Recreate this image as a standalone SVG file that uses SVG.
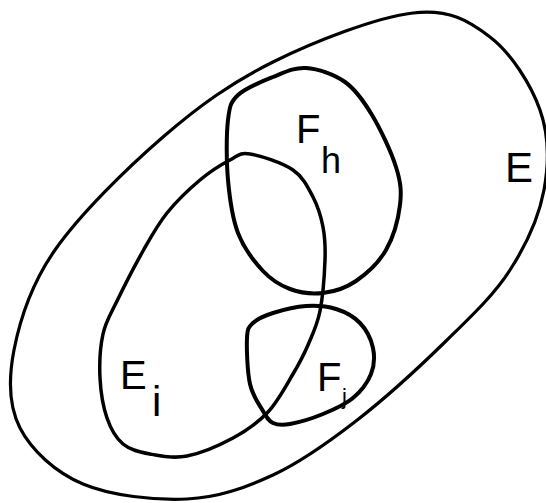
<svg xmlns="http://www.w3.org/2000/svg" width="546" height="503" viewBox="0 0 546 503">
<style>
.set{fill:none;stroke:#000;stroke-linejoin:round;stroke-linecap:round}
.lbl{font-family:"Liberation Sans",Arial,sans-serif;fill:#000}
</style>
<rect width="546" height="503" fill="#fff"/>
<g id="E">
<path class="set" stroke-width="3.2" d="M413,13 C449.2,8.8 468.8,20.8 490,37 C511.2,53.2 531,84.5 540,110 C549,135.5 549,163.3 544,190 C539,216.7 526.3,244.8 510,270 C493.7,295.2 471.7,315.8 446,341 C420.3,366.2 384.8,398.7 356,421 C327.2,443.3 301.2,462 273,475 C244.8,488 218.7,497.5 187,499 C155.3,500.5 110.8,495.8 83,484 C55.2,472.2 31.5,450.3 20,428 C8.5,405.7 8.2,379.7 14,350 C19.8,320.3 30.2,285.5 55,250 C79.8,214.5 126.7,168.3 163,137 C199.3,105.7 231.3,82.7 273,62 C314.7,41.3 376.8,17.2 413,13 Z"/>
<text class="lbl" x="505" y="182" font-size="42">E</text>
</g>
<g id="Fh">
<path class="set" stroke-width="4" d="M306,68 C318,68.8 334,74.2 345,82 C356,89.8 363.5,100.8 372,115 C380.5,129.2 391.3,152 396,167 C400.7,182 401.7,191.2 400,205 C398.3,218.8 393.3,237.3 386,250 C378.7,262.7 366.5,273.8 356,281 C345.5,288.2 334,291.7 323,293 C312,294.3 300,292.7 290,289 C280,285.3 271.7,280.3 263,271 C254.3,261.7 243.8,248.2 238,233 C232.2,217.8 229.7,198.8 228,180 C226.3,161.2 226.3,134.2 228,120 C229.7,105.8 230.5,102.2 238,95 C245.5,87.8 261.7,81.5 273,77 C284.3,72.5 294,67.2 306,68 Z"/>
<text class="lbl" x="296" y="143" font-size="40">F</text>
<text class="lbl" x="321" y="173" font-size="36">h</text>
</g>
<g id="Ei">
<path class="set" stroke-width="3.5" d="M250,154 C260.5,155.7 282.5,162.8 293,170 C303.5,177.2 308,187.5 313,197 C318,206.5 321,216.5 323,227 C325,237.5 325.5,246 325,260 C324.5,274 322.8,296.8 320,311 C317.2,325.2 312.5,334.5 308,345 C303.5,355.5 299.7,362.8 293,374 C286.3,385.2 278,401.3 268,412 C258,422.7 246.5,430.7 233,438 C219.5,445.3 200.8,453.3 187,456 C173.2,458.7 160.7,456 150,454 C139.3,452 130.2,450 123,444 C115.8,438 110.8,429 107,418 C103.2,407 100.7,392 100,378 C99.3,364 100.2,346.8 103,334 C105.8,321.2 110.3,314.8 117,301 C123.7,287.2 134.7,265.7 143,251 C151.3,236.3 157.5,224.8 167,213 C176.5,201.2 189.5,188.8 200,180 C210.5,171.2 221.7,164.3 230,160 C238.3,155.7 239.5,152.3 250,154 Z"/>
<text class="lbl" x="120" y="389" font-size="40">E</text>
<text class="lbl" x="152" y="416" font-size="42">i</text>
</g>
<g id="Fj">
<path class="set" stroke-width="4" d="M306,306 C316.5,305.3 327,306.2 336,309 C345,311.8 353.8,316.5 360,323 C366.2,329.5 371.2,339.5 373,348 C374.8,356.5 374.3,365.7 371,374 C367.7,382.3 361,391.3 353,398 C345,404.7 333.5,409.7 323,414 C312.5,418.3 298.3,422.5 290,424 C281.7,425.5 277.5,425.2 273,423 C268.5,420.8 266.8,417.5 263,411 C259.2,404.5 252.7,396.2 250,384 C247.3,371.8 246.5,348.2 247,338 C247.5,327.8 248.7,327.2 253,323 C257.3,318.8 264.2,315.8 273,313 C281.8,310.2 295.5,306.7 306,306 Z"/>
<text class="lbl" x="317" y="391" font-size="40">F</text>
<text class="lbl" x="342" y="404" font-size="22">j</text>
</g>
</svg>
